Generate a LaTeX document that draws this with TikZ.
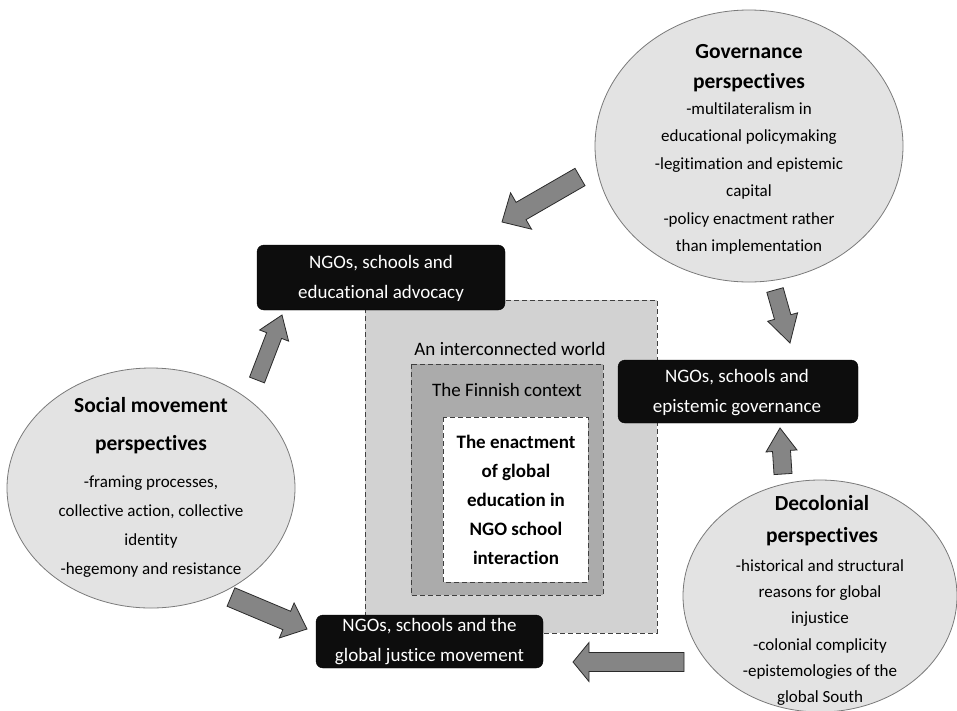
\documentclass[tikz,border=0pt]{standalone}
\usepackage{fontspec}
\setmainfont{Carlito}[Ligatures=NoCommon,RawFeature=-liga]
\usetikzlibrary{calc,shapes.geometric}
\definecolor{ellfill}{HTML}{E3E3E3}
\definecolor{ellline}{HTML}{7A7A7A}
\definecolor{outerfill}{HTML}{D2D2D2}
\definecolor{midfill}{HTML}{ABABAB}
\definecolor{arrfill}{HTML}{858585}
\definecolor{arrline}{HTML}{2A2A2A}
\tikzset{
  persp/.style={ellipse, draw=ellline, line width=0.8pt, fill=ellfill, inner sep=0pt},
  ngobox/.style={rectangle, rounded corners=7pt, fill=black!95, draw=black, inner sep=0pt},
  ngotext/.style={align=center, text=white, font=\fontsize{19}{30}\selectfont, inner sep=0pt},
  ctxbox/.style={draw=black!75, dashed, line width=0.7pt, dash pattern=on 5pt off 3pt},
  ptitle/.style={align=center, font=\fontsize{21.5}{30}\selectfont\bfseries, inner sep=0pt},
  pbody/.style={align=center, font=\fontsize{17}{27.4}\selectfont, inner sep=0pt},
  fatarrowstyle/.style={fill=arrfill, draw=arrline, line width=0.8pt, line join=miter}
}
\newcommand{\fatarrow}[5]{%
  \coordinate (fah) at ($(#2)!#5!(#1)$);
  \path[fatarrowstyle] ($(#1)!#3!90:(#2)$) -- ($(fah)!#3!90:(#2)$) -- ($(fah)!#4!90:(#2)$)
    -- (#2) -- ($(fah)!#4!-90:(#2)$) -- ($(fah)!#3!-90:(#2)$) -- ($(#1)!#3!-90:(#2)$) -- cycle;
}
\begin{document}
\begin{tikzpicture}[x=1pt,y=-1pt]
\clip (0,0) rectangle (957,710);
\fill[white] (0,0) rectangle (957,710);

% context boxes
\path[ctxbox, fill=outerfill] (365,300) rectangle (657,633);
\path[ctxbox, fill=midfill] (411,364) rectangle (603,595);
\path[ctxbox, fill=white] (443,417) rectangle (588,582);
\node[inner sep=0pt, font=\fontsize{19}{24}\selectfont] (world) at (510,349) {An interconnected world};
\node[inner sep=0pt, font=\fontsize{19}{24}\selectfont] (finn) at (507,390) {The Finnish context};
\node[align=center, inner sep=0pt, font=\fontsize{19}{29}\selectfont\bfseries] (core) at (516,500)
  {The enactment\\of global\\education in\\NGO school\\interaction};

% perspective ellipses
\node[persp, minimum width=308pt, minimum height=272pt] (gov) at (749,146) {};
\node[persp, minimum width=288pt, minimum height=240pt] (soc) at (151,488) {};
\node[persp, minimum width=274pt, minimum height=232pt] (dec) at (820,596) {};

\node[ptitle] (govt) at (749,68) {Governance\\perspectives};
\node[pbody] (govb) at (749,178.5) {-multilateralism in\\educational policymaking\\-legitimation and epistemic\\capital\\-policy enactment rather\\than implementation};

\node[ptitle, font=\fontsize{21.5}{38}\selectfont\bfseries] (soct) at (151,426) {Social movement\\perspectives};
\node[pbody, font=\fontsize{17}{29}\selectfont] (socb) at (151,526.5) {-framing processes,\\collective action, collective\\identity\\-hegemony and resistance};

\node[ptitle, font=\fontsize{21.5}{32}\selectfont\bfseries] (dect) at (822,521) {Decolonial\\perspectives};
\node[pbody, font=\fontsize{17}{26.2}\selectfont] (decb) at (820,632.5) {-historical and structural\\reasons for global\\injustice\\-colonial complicity\\-epistemologies of the\\global South};

% NGO boxes
\node[ngobox, minimum width=248pt, minimum height=65pt] (adv) at (381,277.5) {};
\node[ngotext] (advt) at (381,278) {NGOs, schools and\\educational advocacy};
\node[ngobox, minimum width=240pt, minimum height=63pt] (epi) at (738,391.5) {};
\node[ngotext] (epit) at (737,393) {NGOs, schools and\\epistemic governance};
\node[ngobox, minimum width=227pt, minimum height=53pt] (gj) at (429.5,641.5) {};
\node[ngotext] (gjt) at (429.5,642) {NGOs, schools and the\\global justice movement};

% arrow end points
\coordinate (a1s) at (580,177); \coordinate (a1e) at (502,222);
\coordinate (a2s) at (775,290); \coordinate (a2e) at (790,343);
\coordinate (a3s) at (257,380); \coordinate (a3e) at (282,315);
\coordinate (a4s) at (231,597); \coordinate (a4e) at (307,629);
\coordinate (a5s) at (783,474); \coordinate (a5e) at (780,428);
\coordinate (a6s) at (684,662); \coordinate (a6e) at (573,662);

\fatarrow{a1s}{a1e}{10pt}{21pt}{22pt}
\fatarrow{a2s}{a2e}{8.5pt}{15.5pt}{27pt}
\fatarrow{a3s}{a3e}{8pt}{15.5pt}{22pt}
\fatarrow{a4s}{a4e}{10pt}{19pt}{22pt}
\fatarrow{a5s}{a5e}{9pt}{15.5pt}{23pt}
\fatarrow{a6s}{a6e}{9.5pt}{19.5pt}{16pt}
\end{tikzpicture}
\end{document}
